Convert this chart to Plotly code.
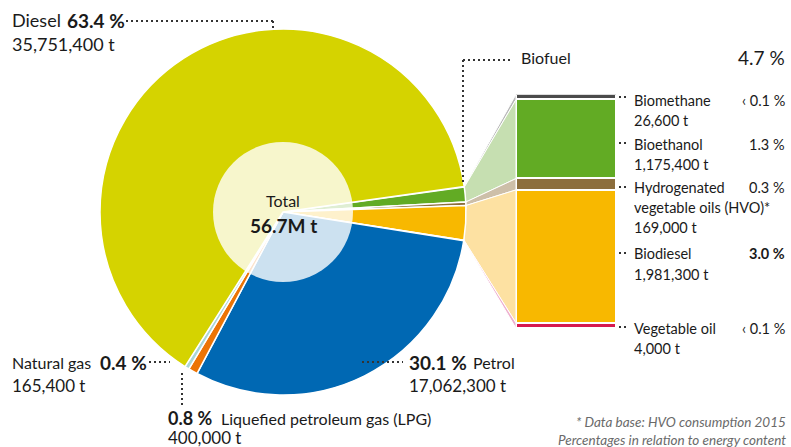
import math
import plotly.graph_objects as go

W, H = 791, 447
FONT = "Lato"

# ---------------- data ----------------
slice_names = ["Biomethane", "Bioethanol", "Hydrogenated vegetable oils (HVO)", "Biodiesel",
               "Vegetable oil", "Petrol", "Liquefied petroleum gas (LPG)", "Natural gas", "Diesel"]
slice_pct = [0.05, 1.3, 0.3, 3.0, 0.05, 30.1, 0.8, 0.4, 63.4]
slice_colors = ["#4b4b4b", "#62ab24", "#8c6e3c", "#f8b800", "#d6194f",
                "#0068b3", "#ec7405", "#a9d6d6", "#d5d300"]

bio_names = ["Biomethane", "Bioethanol", "Hydrogenated vegetable oils (HVO)", "Biodiesel", "Vegetable oil"]
bio_tonnes = [26600, 1175400, 169000, 1981300, 4000]
bio_colors = ["#4b4b4b", "#62ab24", "#8c6e3c", "#f8b800", "#d6194f"]
bio_light = ["#b9b9b9", "#c6dfb1", "#cdbfa9", "#fde1a2", "#eeb0cf"]
bio_min_display = 80000  # minimum visible segment size in the breakdown bar

total_label = "56.7M t"

# ---------------- layout geometry ----------------
CX, CY, R = 283, 212, 183          # pie centre / radius (px)
ROT = 82                            # clockwise start angle from 12 o'clock
BAR_L, BAR_R = 516, 616             # breakdown bar x extent (px)
BAR_TOP, BAR_BOT = 94.3, 328.3      # breakdown bar y extent (px)

fig = go.Figure()

tot = sum(slice_pct)
disp = [max(t, bio_min_display) for t in bio_tonnes]
disp_tot = sum(disp)
scale = (BAR_BOT - BAR_TOP) / disp_tot


def arc_pt(cum):
    a = math.radians(ROT + 360.0 * cum / tot)
    return CX + R * math.sin(a), CY - R * math.cos(a)


# connectors between biofuel wedges and the bar (pixel overlay axis x/y)
cum = 0.0
ycum = BAR_TOP
for i, name in enumerate(bio_names):
    x0, y0 = arc_pt(cum)
    cum += slice_pct[i]
    x1, y1 = arc_pt(cum)
    yt = ycum
    yb = ycum + disp[i] * scale
    ycum = yb
    fig.add_trace(go.Scatter(
        x=[x0, BAR_L, BAR_L, x1, x0], y=[y0, yt, yb, y1, y0],
        mode="lines", fill="toself", fillcolor=bio_light[i],
        line=dict(color="white", width=1), hoverinfo="skip", showlegend=False,
        xaxis="x", yaxis="y"))

# breakdown stacked bar (bottom to top)
for i in reversed(range(len(bio_names))):
    fig.add_trace(go.Bar(
        x=[0], y=[disp[i]], width=1, name=bio_names[i],
        marker=dict(color=bio_colors[i], line=dict(color="white", width=2)),
        hoverinfo="skip", showlegend=False, xaxis="x2", yaxis="y2"))

# pie
fig.add_trace(go.Pie(
    labels=slice_names, values=slice_pct, sort=False, direction="clockwise",
    rotation=ROT, textinfo="none", hoverinfo="skip", showlegend=False,
    marker=dict(colors=slice_colors, line=dict(color="white", width=1.5)),
    domain=dict(x=[(CX - R) / W, (CX + R) / W], y=[1 - (CY + R) / H, 1 - (CY - R) / H])))

shapes = []
# translucent centre disc
shapes.append(dict(type="circle", xref="x", yref="y", x0=CX - 70, x1=CX + 70, y0=CY - 70, y1=CY + 70,
                   fillcolor="rgba(255,255,255,0.80)", line=dict(width=0), layer="above"))

DOT = dict(color="#333333", width=2, dash="2px,3px")


def seg(x0, y0, x1, y1):
    shapes.append(dict(type="line", xref="x", yref="y", x0=x0, y0=y0, x1=x1, y1=y1,
                       line=DOT, layer="above"))


# leader lines
seg(126, 21, 273, 21); seg(273, 21, 273, 28)          # Diesel
seg(463, 60, 513, 60); seg(463, 60, 463, 184)         # Biofuel
for yy in [97, 143, 187, 253, 327]:                  # breakdown labels
    seg(619, yy, 629, yy)
seg(149, 362, 170, 362)                               # Natural gas
seg(182, 373, 182, 406)                               # LPG
seg(362, 362, 403, 362)                               # Petrol

annotations = []


def txt(x, y, s, size=15, anchor="left", color="#1a1a1a", italic=False):
    if italic:
        s = "<i>" + s + "</i>"
    annotations.append(dict(x=x / W, y=1 - y / H, xref="paper", yref="paper", text=s,
                            showarrow=False, xanchor=anchor, yanchor="middle",
                            font=dict(family=FONT, size=size, color=color)))


# left / bottom labels
txt(10, 20, "Diesel", 18)
txt(65, 20, "<b>63.4 %</b>", 19)
txt(10, 44, "35,751,400 t", 18)

txt(10, 362, "Natural gas", 16)
txt(98, 362, "<b>0.4 %</b>", 19)
txt(10, 385, "165,400 t", 17)

txt(407, 362, "<b>30.1 %</b>", 19)
txt(471, 362, "Petrol", 16)
txt(407, 385, "17,062,300 t", 17)

txt(166, 418, "<b>0.8 %</b>", 18)
txt(219, 418, "Liquefied petroleum gas (LPG)", 16)
txt(166, 437.5, "400,000 t", 17)

# biofuel block
txt(519, 58, "Biofuel", 16)
txt(787, 58, "4.7 %", 19, anchor="right")

RS = 14.5
txt(632, 100, "Biomethane", RS)
txt(632, 120, "26,600 t", RS)
txt(787, 100, "‹ 0.1 %", RS, anchor="right")

txt(632, 144, "Bioethanol", RS)
txt(632, 164, "1,175,400 t", RS)
txt(787, 144, "1.3 %", RS, anchor="right")

txt(632, 187, "Hydrogenated", RS)
txt(632, 207, "vegetable oils (HVO)*", RS)
txt(632, 227, "169,000 t", RS)
txt(787, 187, "0.3 %", RS, anchor="right")

txt(632, 253, "Biodiesel", RS)
txt(632, 274, "1,981,300 t", RS)
txt(787, 253, "<b>3.0 %</b>", RS, anchor="right")

txt(632, 328, "Vegetable oil", RS)
txt(632, 348, "4,000 t", RS)
txt(787, 328, "‹ 0.1 %", RS, anchor="right")

# centre
txt(CX, 200, "Total", 16, anchor="center")
txt(CX, 225, "<b>" + total_label + "</b>", 19, anchor="center")

# footnote
txt(788, 422, "* Data base: HVO consumption 2015", 13.5, anchor="right", color="#6a6a6a", italic=True)
txt(788, 440, "Percentages in relation to energy content", 13.5, anchor="right", color="#6a6a6a", italic=True)

fig.update_layout(
    width=W, height=H, margin=dict(l=0, r=0, t=0, b=0),
    paper_bgcolor="white", plot_bgcolor="rgba(0,0,0,0)",
    barmode="stack", bargap=0,
    xaxis=dict(range=[0, W], domain=[0, 1], visible=False, fixedrange=True),
    yaxis=dict(range=[H, 0], domain=[0, 1], visible=False, fixedrange=True),
    xaxis2=dict(range=[-0.5, 0.5], domain=[BAR_L / W, BAR_R / W], anchor="y2",
                visible=False, fixedrange=True),
    yaxis2=dict(range=[0, disp_tot], domain=[1 - BAR_BOT / H, 1 - BAR_TOP / H], anchor="x2",
                visible=False, fixedrange=True),
    shapes=shapes, annotations=annotations,
    font=dict(family=FONT),
)

fig.write_html("out.html", config={"displayModeBar": False},
               post_script="document.body.style.margin='0px';document.body.style.overflow='hidden';")
